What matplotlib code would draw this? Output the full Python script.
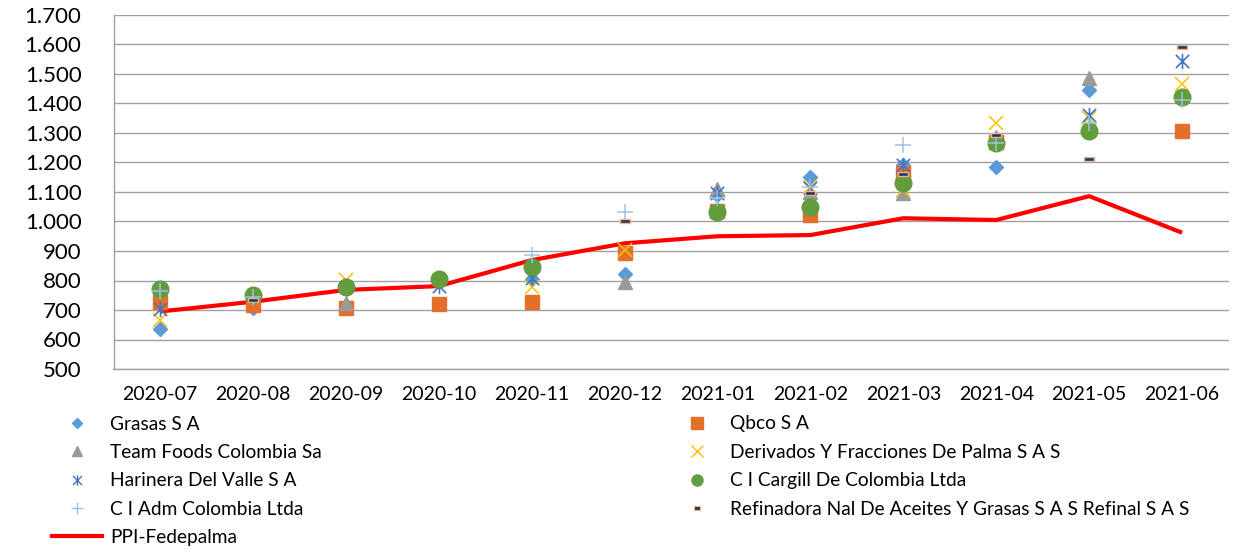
import numpy as np
import matplotlib
matplotlib.use("Agg")
import matplotlib.pyplot as plt
from matplotlib.path import Path
from matplotlib.lines import Line2D
from matplotlib.ticker import FuncFormatter

nan = np.nan
months = ['2020-07', '2020-08', '2020-09', '2020-10', '2020-11', '2020-12',
          '2021-01', '2021-02', '2021-03', '2021-04', '2021-05', '2021-06']

grasas    = [636, 708, nan, nan, 805, 822, 1090, 1150, 1190, 1184, 1446, nan]
qbco      = [728, 717, 706, 720, 728, 892, 1035, 1022, 1163, 1268, nan, 1308]
teamfoods = [nan, nan, 725, nan, nan, 796, 1110, 1100, 1095, 1285, 1485, nan]
derivados = [665, nan, 802, nan, 779, 903, nan, 1118, 1107, 1333, 1350, 1465]
harinera  = [702, nan, nan, 782, 807, nan, 1095, 1113, 1192, nan, 1361, 1544]
cargill   = [771, 751, 779, 804, 845, nan, 1033, 1050, 1129, 1267, 1307, 1423]
adm       = [765, 744, nan, nan, 886, 1033, 1078, 1118, 1259, 1267, 1333, 1412]
refinal   = [nan, 734, nan, nan, nan, 1002, nan, 1095, 1161, 1293, 1212, 1593]
ppi       = [695, 728, 768, 781, 869, 926, 950, 954, 1011, 1005, 1086, 962]

labels = ['Grasas S A', 'Qbco S A', 'Team Foods Colombia Sa',
          'Derivados Y Fracciones De Palma S A S', 'Harinera Del Valle S A',
          'C I Cargill De Colombia Ltda', 'C I Adm Colombia Ltda',
          'Refinadora Nal De Aceites Y Grasas S A S Refinal S A S', 'PPI-Fedepalma']

plt.rcParams['font.family'] = ['Lato', 'DejaVu Sans']

W, H = 1234, 552
fig = plt.figure(figsize=(W / 100, H / 100), dpi=100)
ax_l, ax_r, ax_t, ax_b = 113.5, 1228.5, 15, 369
ax = fig.add_axes([ax_l / W, 1 - ax_b / H, (ax_r - ax_l) / W, (ax_b - ax_t) / H])

x = np.arange(len(months))

star = Path([(-1, -1), (1, 1), (-1, 1), (1, -1), (0, -1.15), (0, 1.15)],
            [Path.MOVETO, Path.LINETO, Path.MOVETO, Path.LINETO, Path.MOVETO, Path.LINETO])
dash = Path([(-1, -0.45), (1, -0.45), (1, 0.45), (-1, 0.45), (-1, -0.45)],
            [Path.MOVETO, Path.LINETO, Path.LINETO, Path.LINETO, Path.CLOSEPOLY])

styles = [
    dict(marker='D', ms=7.5, color='#5B9BD5', mec='#5B9BD5'),
    dict(marker='s', ms=10, color='#E2702B', mec='#E2702B'),
    dict(marker='^', ms=10.5, color='#9A9A9A', mec='#9A9A9A'),
    dict(marker='x', ms=10, color='#FFC000', mew=1.1),
    dict(marker=star, ms=11, color='#4472C4', mfc='none', mew=1.2),
    dict(marker='o', ms=12, color='#629C3F', mec='#629C3F'),
    dict(marker='+', ms=12, color='#9DC3E6', mew=1.1),
    dict(marker=dash, ms=6.5, color='#203864', mfc='#203864', mec='#F4B183', mew=1.0),
]
legend_ms = [5.5, 8, 7.5, 8, 7.5, 8, 8, 5]
series = [grasas, qbco, teamfoods, derivados, harinera, cargill, adm, refinal]

ax.plot(x, ppi, color='#FF0000', lw=3, solid_capstyle='butt', zorder=2)
handles = []
for s, st, lms in zip(series, styles, legend_ms):
    ax.plot(x, s, linestyle='none', zorder=3, **st)
    st2 = dict(st)
    st2['ms'] = lms
    if st2['marker'] in ('x', '+'):
        st2['mew'] = 1.0
    if st2['marker'] is star:
        st2['mew'] = 1.0
    if st2['marker'] is dash:
        st2['mew'] = 0.8
    handles.append(Line2D([], [], linestyle='none', **st2))
ppi_handle = Line2D([], [], color='#FF0000', lw=3)

ax.set_xlim(-0.5, len(months) - 0.5)
ax.set_ylim(500, 1700)
ax.set_yticks(np.arange(500, 1701, 100))
ax.yaxis.set_major_formatter(FuncFormatter(lambda v, p: f"{int(v):,}".replace(',', '.')))
ax.set_xticks(x)
ax.set_xticklabels(months)
ax.grid(axis='y', color='#A0A0A0', lw=1.0)
ax.set_axisbelow(True)
for sp in ['top', 'right']:
    ax.spines[sp].set_visible(False)
for sp in ['left', 'bottom']:
    ax.spines[sp].set_color('#A0A0A0')
    ax.spines[sp].set_linewidth(1.0)
ax.tick_params(axis='y', length=0, pad=23, labelsize=16, colors='black')
ax.tick_params(axis='x', length=0, pad=12, labelsize=14, colors='black')

fs = 13.8
fpx = fs * 100 / 72
col1 = [handles[0], handles[2], handles[4], handles[6], ppi_handle]
lab1 = [labels[0], labels[2], labels[4], labels[6], labels[8]]
col2 = [handles[1], handles[3], handles[5], handles[7]]
lab2 = [labels[1], labels[3], labels[5], labels[7]]
common = dict(loc='upper left', frameon=False, fontsize=fs, borderpad=0, borderaxespad=0,
              handlelength=50 / fpx, handletextpad=8 / fpx, labelspacing=0.595,
              bbox_transform=fig.transFigure, numpoints=1)
leg1 = fig.legend(col1, lab1, bbox_to_anchor=(52 / W, 1 - 415.5 / H), **common)
leg2 = fig.legend(col2, lab2, bbox_to_anchor=(672 / W, 1 - 415.5 / H), **common)

fig.savefig('out.png', dpi=100)
